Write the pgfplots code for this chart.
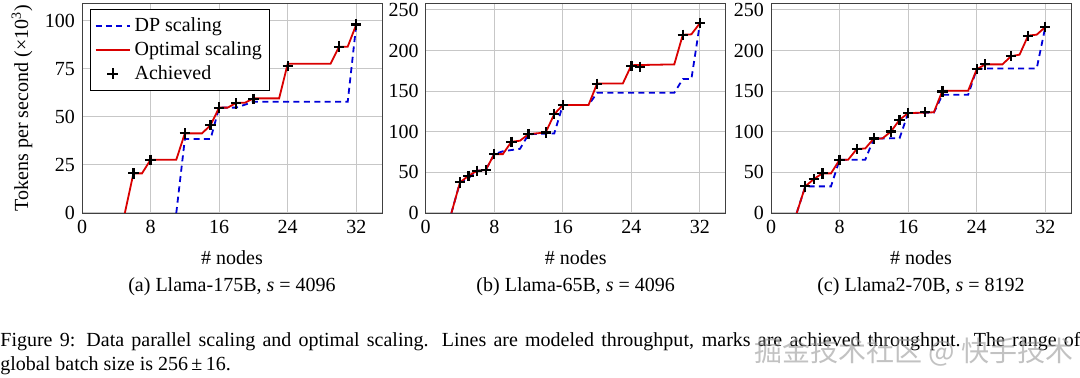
\documentclass[border=0pt]{standalone}
\usepackage{fontspec}
\setmainfont{Liberation Serif}
\newfontfamily\cjk{Noto Sans CJK SC}
\usepackage{pgfplots}
\pgfplotsset{compat=1.18}

\pgfplotsset{
  myax/.style={
    scale only axis, width=150pt, height=105pt,
    xmin=0, xmax=35, ymin=0,
    xtick={0,8,16,24,32},
    grid=major, grid style={black!22, line width=0.5pt},
    axis line style={black!75},
    major tick length=0pt,
    /pgf/number format/assume math mode=true,
    tick label style={font=\fontsize{10}{12}\selectfont},
    label style={font=\fontsize{10}{12}\selectfont},
    xlabel={\# nodes},
    xlabel style={at={(axis description cs:0.5,-0.214)}, anchor=center},
    clip=false,
  },
  dp/.style={blue!85!black, line width=0.9pt, dash pattern=on 3pt off 2.2pt},
  opt/.style={red!85!black, line width=0.9pt},
  ach/.style={only marks, mark=+, mark size=2.6pt, black, line width=1.1pt},
}

\begin{document}
\begin{tikzpicture}
\path[use as bounding box] (0pt,0pt) rectangle (540pt,-189pt);

% (a)
\begin{axis}[myax, at={(41pt,-106.5pt)}, anchor=south west,
  ymax=109.2, ytick={0,25,50,75,100},
  ylabel={Tokens per second (×10\textsuperscript{3})},
  ylabel style={at={(axis description cs:-0.2,0.5)}, anchor=center, rotate=0},
  legend style={at={(axis description cs:0.027,0.972)}, anchor=north west,
    font=\fontsize{10}{12}\selectfont, draw=black, line width=0.6pt,
    row sep=-0.5pt, inner sep=2pt},
  legend cell align=left]
\addplot[dp] coordinates {(11,0) (12,38.5) (15,38.5) (16,54.8) (18,54.8) (20,57.8) (31,57.8) (32,98)};
\addlegendentry{DP scaling}
\addplot[opt] coordinates {(5,0) (6,20.6) (7,20.6) (8,27.7) (11,27.7) (12,41.4) (14,41.4) (15,45.7) (16,54.8) (17,54.8) (18,57.3) (19,57.3) (20,59.6) (23,59.6) (24,77.6) (29,77.6) (30,86.5) (31,86.5) (32,98)};
\addlegendentry{Optimal scaling}
\addplot[ach] coordinates {(6,20.6) (8,27.7) (12,41.4) (15,45.7) (16,54.8) (18,57) (20,59.4) (24,76.4) (30,86.5) (32,98)};
\addlegendentry{Achieved}
\node[font=\fontsize{10}{12}\selectfont] at (axis description cs:0.5,-0.352) {(a) Llama-175B, \textit{s} = 4096};
\end{axis}

% (b)
\begin{axis}[myax, at={(212.85pt,-106.5pt)}, anchor=south west,
  ymax=258.6, ytick={0,50,100,150,200,250}]
\addplot[dp] coordinates {(3,0) (4,37.7) (5,43) (6,52) (7,52.9) (8,72.5) (9,76) (11,79) (12,97) (15,98) (16,133) (19,133) (20,148) (29,148) (30,165) (31,165) (32,234)};
\addplot[opt] coordinates {(3,0) (4,37.7) (5,45.9) (6,52) (7,52.9) (8,72.5) (9,72.5) (10,87.7) (11,89) (12,97.1) (14,99.2) (15,121.7) (16,133) (19,133) (20,159.5) (23,159.5) (24,182) (29,183) (30,219.5) (31,220) (32,234)};
\addplot[ach] coordinates {(4,37.7) (5,45.9) (6,52) (7,52.9) (8,72.5) (10,87.7) (12,97.1) (14,99.2) (15,121.7) (16,133) (20,159) (24,181) (25,180) (30,219.5) (32,234)};
\node[font=\fontsize{10}{12}\selectfont] at (axis description cs:0.5,-0.352) {(b) Llama-65B, \textit{s} = 4096};
\end{axis}

% (c)
\begin{axis}[myax, at={(385.5pt,-106.5pt)}, anchor=south west,
  ymax=258.6, ytick={0,50,100,150,200,250}]
\addplot[dp] coordinates {(3,0) (4,32.8) (7,32.8) (8,65.6) (11,65.6) (12,91.8) (15,92) (16,123) (19,123.5) (20,145.5) (23,145.5) (24,177) (25,178) (31,178) (32,229)};
\addplot[opt] coordinates {(3,0) (4,32.8) (5,41.8) (6,48.8) (7,48.8) (8,65.6) (9,65.6) (10,78.7) (11,79.5) (12,91.8) (13,91.8) (14,100.4) (15,114.8) (16,123) (19,124) (20,150.5) (23,150.5) (24,177) (25,183) (27,183) (28,193) (29,195) (30,218.4) (31,219.6) (32,229)};
\addplot[ach] coordinates {(4,32.8) (5,41.8) (6,48.8) (8,65.6) (10,78.7) (12,91.8) (14,100.4) (15,114.8) (16,123) (18,124) (20,149.6) (24,177) (25,183) (28,193) (30,218) (32,229)};
\node[font=\fontsize{10}{12}\selectfont] at (axis description cs:0.5,-0.352) {(c) Llama2-70B, \textit{s} = 8192};
\end{axis}

\node[anchor=north west, inner sep=0pt, text width=540pt, align=justify,
  font=\fontsize{10}{12}\selectfont] at (0pt,-166pt)
  {Figure 9: Data parallel scaling and optimal scaling. Lines are modeled throughput, marks are achieved throughput. The range of\linebreak global batch size is 256\,±\,16.};
\node[anchor=east, inner sep=0pt, font=\cjk\fontsize{14}{14}\selectfont, text=black!40, opacity=0.6] at (537pt,-176pt) {掘金技术社区 @ 快手技术};
\end{tikzpicture}
\end{document}
